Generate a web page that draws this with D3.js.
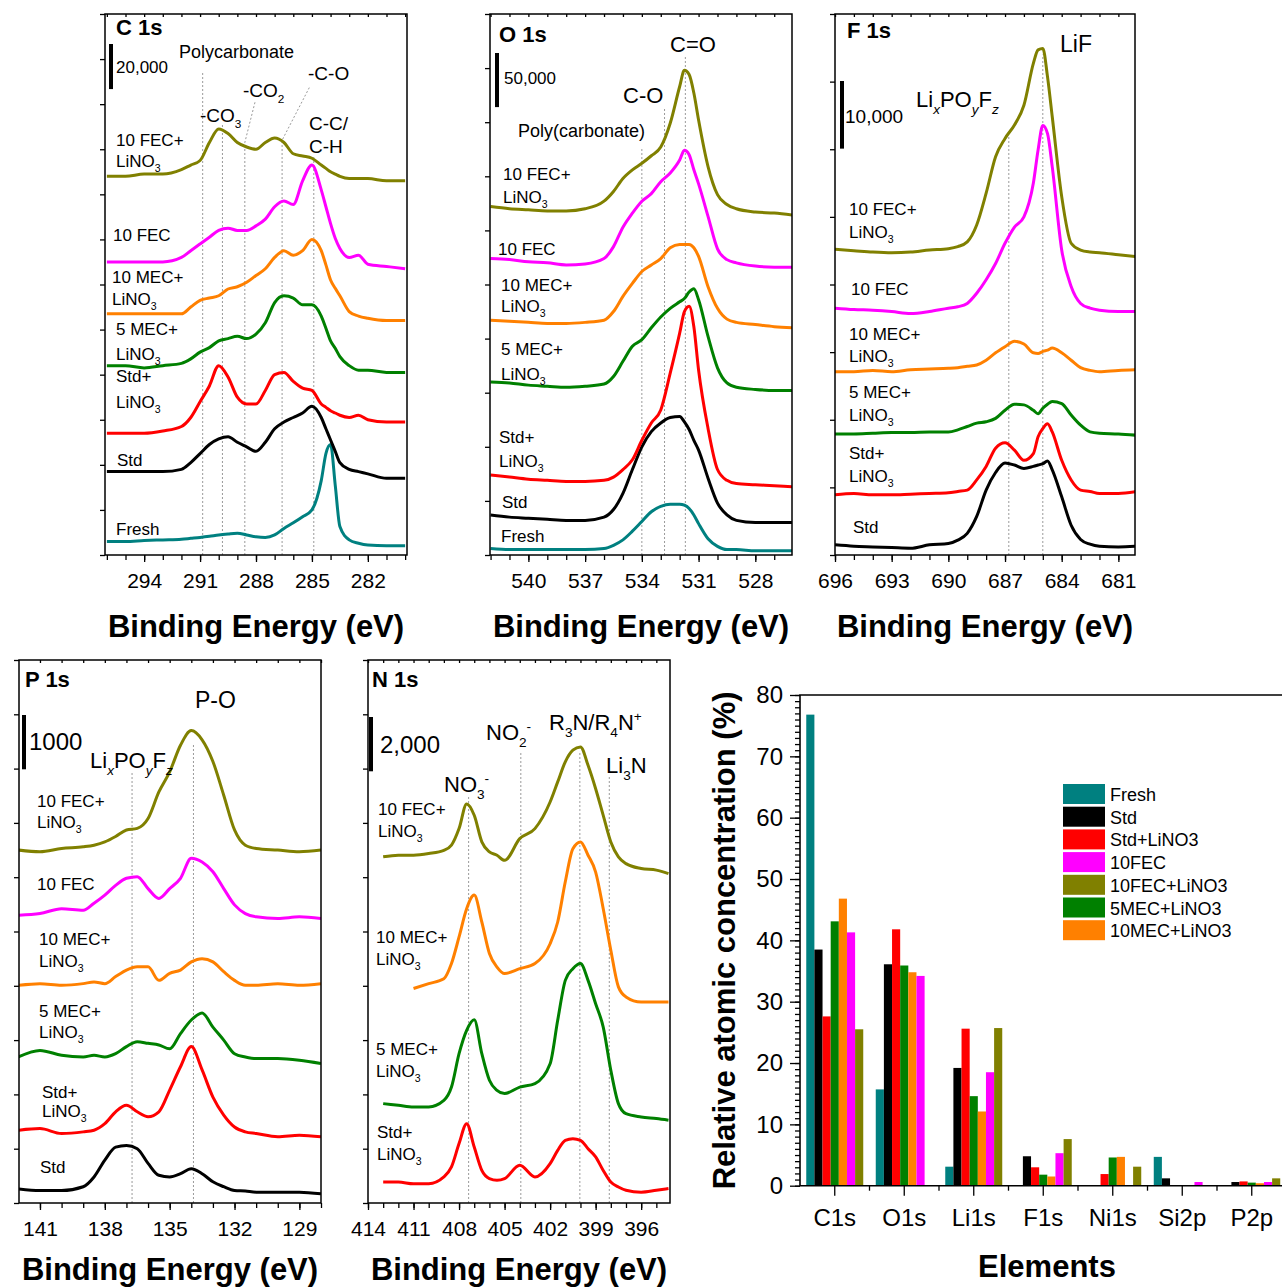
<!DOCTYPE html>
<html>
<head>
<meta charset="utf-8">
<script src="https://cdn.jsdelivr.net/npm/d3@7"></script>
<style>
  body { margin: 0; background: #fff; }
  svg text { font-family: "Liberation Sans", Arial, Helvetica, sans-serif; fill: #000; }
</style>
</head>
<body>
<svg id="fig" width="1282" height="1288"></svg>
<script>
// ---------- C 1s (intensity in 1000 counts) ----------
const c1sEnergy = [296,295,294,293,292,291.5,291,290.5,290,289.5,289,288.5,288,287.5,287,286.5,286,285.5,285,284.5,284.25,284,283.75,283.5,283,282.5,282,281,280];
const c1sTicks = [294,291,288,285,282];
const c1sFec10Li = [168,168,169,169,171,173,175,183,189,187,183,181,180,183,185,183,178,177,176,173,171.5,170,169,168,167,167,167,166,166];
const c1sFec10 = [130,130,130,130,132,135,138,141,144,145,144,144,146,149,154.5,157,155.5,166,173,162,154.5,147,140.5,136,132,133,129,128,127];
const c1sMec10Li = [107,107,107,107,107,110,113,114,115,118,119,121,124,127,132,135,133,135,140,135,128.7,122,118.3,115,108,106,105,104,104];
const c1sMec5Li = [84,84,83,84,85,87,90,92,95,96,97,96,98,103,112,115,114,111,111,106,100.6,95,91.7,88,84,82,82,81,81];
const c1sStdLi = [54,54,54,55,57,61,68,75,84,79,70,67,67,73,80,81,77,74,73,67,65.5,64,63,62,61,62,60,59,59];
const c1sStd = [37,37,37,37,38,41,45,49,51.5,52.5,50,48,46,50,56,59,61,63,66,61,56,51,46,41,38,37,36,34,34];
const c1sFresh = [6,6,6.4,6.7,7,7.4,7.8,8.3,8.9,9.3,9.6,8.9,8.1,7.8,8.9,11.8,14.3,17,20,33,45,49,31,12.6,6.7,5.2,4.4,4.1,4.1];

// ---------- O 1s (1000 counts) ----------
const o1sEnergy = [542,541,540,539,538,537,536,535.5,535,534.5,534,533.5,533,532.5,532,531.75,531.5,531.25,531,530.5,530,529.5,529,528,527,526];
const o1sTicks = [540,537,534,531,528];
const o1sFec10Li = [322,320,319,318,318,320,327,336,348,356,362,369,377,399,433,448,444,427,402,359,333,324,320,317,316,314];
const o1sFec10 = [274,273,271,270,268,269,274,285,303,316,327,334,345,353,365,374,370,356,343,313,283,273,270,267,266,266];
const o1sMec10Li = [217,216,215,214,214,215,217,225,239,251,262,268,274,284,287,287,287,284,276,248,228,218,215,213,211,210];
const o1sMec5Li = [160,159,157,156,155,156,158,165,179,193,199,210,220,228,234,237,243,246,236,202,173,159,155,153,152,152];
const o1sStdLi = [74,72,70,69,68,68,69,72,79,88,106,122,134,168,205,225,230,211,171,117,79,69,66,65,64,63];
const o1sStd = [37,35,34,33,32,32,35,42,57,79,100,114,122,127,128,123,116,106,97,71,48,37,32,30,30,30];
const o1sFresh = [6,5,5,5,5,5,6,9,14,22,31,40,45,47,47,46,43,37,29,15,8,5,5,4,4,4];

// ---------- F 1s (1000 counts) ----------
const f1sEnergy = [696,695,694,693,692,691,690,689.5,689,688.5,688,687.5,687,686.5,686,685.5,685.25,685,684.75,684.5,684,683.5,683,682.5,682,681,680];
const f1sTicks = [696,693,690,687,684,681];
const f1sFec10Li = [45.2,45,44.8,44.7,44.8,45.1,45.3,45.6,46.3,48.8,53.5,58.9,61.6,63.6,66.5,72.7,74.7,74.9,70.7,64.8,53,46.1,45.1,44.8,44.7,44.4,44.1];
const f1sFec10 = [36.5,36.3,36.2,36,35.7,36,36.5,36.7,37.2,38.7,40.7,43.1,46.1,48.5,50,55,59.9,63.5,62.3,57.4,45.1,39.7,37.2,36.5,36.2,36,36];
const f1sMec10Li = [27.1,27.1,27.3,27.1,27.4,27.5,27.6,27.7,27.9,28.1,28.8,29.9,30.8,31.6,31.2,29.9,29.8,30.1,30.3,30.6,29.9,28.8,27.7,27.3,27.1,27.3,27.4];
const f1sMec5Li = [17.9,17.9,18,18.1,18.1,18.2,18.2,18.5,19,19.5,19.7,20.2,21.4,22.3,22.2,21.4,20.9,21.7,22.3,22.7,22.4,20.7,19.2,18.2,18,17.9,17.7];
const f1sStdLi = [8.9,9.1,8.9,8.9,9,9.1,9.2,9.4,9.6,11.1,13.1,15.8,16.6,15.5,14,15,17.5,18.7,19.4,18.2,14,11.1,9.6,9.4,9.1,9.1,9.4];
const f1sStd = [1.5,1.3,1.2,1.1,1,1.5,1.7,2.2,3.2,5.7,9.6,12.2,13.6,13.3,12.8,13.1,13.3,13.5,13.9,12.6,8.6,4.4,2.3,1.6,1.3,1.2,1.3];

// ---------- P 1s (counts) ----------
const p1sEnergy = [142,141,140,139,138.5,138,137.5,137,136.5,136,135.5,135,134.5,134,133.5,133,132.5,132,131.5,131,130,129,128];
const p1sTicks = [141,138,135,132,129];
const p1sFec10Li = [6500,6470,6530,6560,6590,6650,6750,6870,6900,7080,7570,7940,8430,8700,8530,8130,7510,6870,6590,6530,6500,6470,6500];
const p1sFec10 = [5300,5330,5420,5390,5520,5670,5850,5980,6010,5790,5610,5790,5980,6350,6280,6100,5790,5490,5330,5270,5240,5270,5240];
const p1sMec10Li = [4010,4040,4010,4040,4070,4040,4170,4290,4350,4350,4100,4230,4290,4440,4500,4440,4260,4100,4010,4010,4040,4010,4040];
const p1sMec5Li = [2690,2810,2720,2690,2720,2690,2750,2880,2970,2940,2910,2840,3120,3370,3500,3240,3000,2750,2690,2660,2660,2630,2570];
const p1sStdLi = [1340,1370,1280,1310,1340,1460,1680,1800,1680,1590,1680,2080,2510,2880,2450,1950,1620,1400,1310,1280,1220,1250,1220];
const p1sStd = [260,230,230,300,480,790,1030,1060,1000,730,510,480,540,630,540,390,300,230,220,200,200,200,170];

// ---------- N 1s (counts) ----------
const n1sEnergy = [413,412,411,410,409,408.5,408,407.5,407,406.5,406,405.5,405,404,403,402,401.5,401,400.5,400,399.5,399,398.5,398,397.5,397,396,395,394.2];
const n1sTicks = [414,411,408,405,402,399,396];
const n1sFec10Li = [12750,12810,12810,12870,12990,13180,13790,14700,14280,13300,12930,12810,12620,13420,13790,14770,15510,16250,16680,16800,16120,15260,14280,13300,12750,12500,12320,12260,12130];
const n1sMec10Li = [null,null,7900,8080,8260,8820,9800,10840,11340,10350,9190,8690,8450,8630,8820,9550,10350,11830,13050,13300,12810,12190,10840,9310,7960,7590,7400,7400,7400];
const n1sMec5Li = [3660,3600,3540,3540,3780,4270,5500,6360,6750,5500,4520,4150,4030,4270,4400,5130,6730,8200,8630,8820,8200,7340,6480,4890,3660,3290,3170,3110,3050];
const n1sStdLi = [770,770,710,710,960,1330,2190,2920,2060,1200,900,840,900,1390,960,1450,1940,2310,2370,2310,2000,1700,1200,770,590,470,400,470,530];

// ---------- atomic concentration (%) ----------
const elements = ['C1s','O1s','Li1s','F1s','Ni1s','Si2p','P2p'];
const concFresh   = [76.8,15.7,3.1,0,0,4.7,0];
const concStd     = [38.5,36.1,19.2,4.8,0,1.2,0.6];
const concStdLi   = [27.6,41.8,25.6,3.0,1.9,0,0.7];
const concMec5Li  = [43.1,35.9,14.6,1.8,4.6,0,0.5];
const concMec10Li = [46.8,34.8,12.1,1.5,4.7,0,0.4];
const concFec10   = [41.3,34.2,18.5,5.3,0,0.6,0.6];
const concFec10Li = [25.5,0,25.7,7.6,3.1,0,1.2];

const colors = {
  fresh: '#008080', std: '#000000', stdLi: '#ff0000', fec10: '#ff00ff',
  fec10Li: '#808000', mec5Li: '#008000', mec10Li: '#ff8000'
};

const svg = d3.select('#fig');
const defs = svg.append('defs');

// text with sub/superscripts: parts are strings or [text, 'sub'|'isub'|'sup']
function rich(g, x, y, parts, size, weight) {
  const t = g.append('text').attr('x', x).attr('y', y).attr('font-size', size);
  if (weight) t.attr('font-weight', weight);
  let cur = 0;
  parts.forEach(p => {
    const s = typeof p === 'string' ? p : p[0];
    const m = typeof p === 'string' ? '' : p[1];
    const off = m.indexOf('sub') >= 0 ? size * 0.32 : (m === 'sup' ? -size * 0.42 : 0);
    const ts = t.append('tspan').attr('dy', off - cur).text(s);
    cur = off;
    if (m) ts.attr('font-size', size * 0.62);
    if (m === 'isub') ts.attr('font-style', 'italic');
  });
  return t;
}

const LINO3 = ['LiNO', ['3', 'sub']];

function drawSpectrum(p) {
  const g = svg.append('g');
  const x = d3.scaleLinear().domain(p.eDomain).range([p.x0, p.x1]);
  const y = d3.scaleLinear().domain([0, p.yMax]).range([p.y1, p.y0]);

  defs.append('clipPath').attr('id', 'clip-' + p.id)
    .append('rect').attr('x', p.x0).attr('y', p.y0)
    .attr('width', p.x1 - p.x0).attr('height', p.y1 - p.y0);

  // dotted guide lines
  p.guides.forEach(gd => {
    const pts = [[x(gd[0][0]), p.y1]].concat(gd.map(d => [x(d[0]), y(d[1])]));
    g.append('path').attr('d', d3.line()(pts))
      .attr('fill', 'none').attr('stroke', '#9a9a9a')
      .attr('stroke-width', 1).attr('stroke-dasharray', '2,2');
  });

  // spectra
  const line = d3.line()
    .defined(d => d[1] != null)
    .x(d => x(d[0])).y(d => y(d[1]))
    .curve(d3.curveMonotoneX);
  const cg = g.append('g').attr('clip-path', 'url(#clip-' + p.id + ')');
  p.series.forEach(s => {
    cg.append('path')
      .datum(p.energies.map((e, i) => [e, s[0][i]]))
      .attr('d', line)
      .attr('fill', 'none')
      .attr('stroke', colors[s[1]])
      .attr('stroke-width', 3)
      .attr('stroke-linejoin', 'round');
  });

  // frame
  g.append('rect').attr('x', p.x0).attr('y', p.y0)
    .attr('width', p.x1 - p.x0).attr('height', p.y1 - p.y0)
    .attr('fill', 'none').attr('stroke', '#000').attr('stroke-width', 1.5);

  const lo = Math.min(p.eDomain[0], p.eDomain[1]), hi = Math.max(p.eDomain[0], p.eDomain[1]);
  const minor = d3.range(Math.ceil(lo), Math.floor(hi) + 1);

  const clean = a => { a.select('.domain').remove(); a.selectAll('line').attr('stroke', '#000').attr('stroke-width', 1.3); };

  g.append('g').attr('transform', `translate(0,${p.y1})`)
    .call(d3.axisBottom(x).tickValues(minor).tickSize(5).tickFormat(''))
    .call(clean);
  const bx = g.append('g').attr('transform', `translate(0,${p.y1})`)
    .call(d3.axisBottom(x).tickValues(p.ticks).tickSize(7).tickPadding(11).tickFormat(d3.format('d')))
    .call(clean);
  bx.selectAll('text').attr('font-size', 21).attr('fill', '#000')
    .style('font-family', '"Liberation Sans", Arial, sans-serif');

  g.append('g').attr('transform', `translate(0,${p.y0})`)
    .call(d3.axisTop(x).tickValues(minor).tickSize(-3).tickFormat(''))
    .call(clean);

  g.append('g').attr('transform', `translate(${p.x0},0)`)
    .call(d3.axisLeft(y).tickValues(d3.range(0, p.yMax + 1e-9, p.yStep)).tickSize(5).tickFormat(''))
    .call(clean);

  // axis title (kept inside the 1288 px canvas on the lower row)
  g.append('text').attr('x', (p.x0 + p.x1) / 2).attr('y', Math.min(p.y1 + 82, 1280))
    .attr('text-anchor', 'middle').attr('font-size', 31).attr('font-weight', 'bold')
    .text('Binding Energy (eV)');

  // panel title
  g.append('text').attr('x', p.title[1]).attr('y', p.title[2])
    .attr('font-size', 22).attr('font-weight', 'bold').text(p.title[0]);

  // intensity scale bar
  const bh = y(0) - y(p.yStep);
  g.append('rect').attr('x', p.bar.x - 2).attr('y', p.bar.top)
    .attr('width', 4).attr('height', bh).attr('fill', '#000');
  g.append('text').attr('x', p.bar.lx).attr('y', p.bar.ly)
    .attr('font-size', p.bar.size).text(p.bar.label);

  p.notes.forEach(n => rich(g, n.x, n.y, n.parts, n.size));
  p.samples.forEach(n => rich(g, n[0], n[1], n[2], 17));
}

drawSpectrum({
  id: 'c1s', x0: 105, x1: 407, y0: 14, y1: 555, eDomain: [296.1, 279.9], yMax: 240, yStep: 20,
  energies: c1sEnergy, ticks: c1sTicks,
  series: [[c1sFresh,'fresh'],[c1sStd,'std'],[c1sStdLi,'stdLi'],[c1sMec5Li,'mec5Li'],[c1sMec10Li,'mec10Li'],[c1sFec10,'fec10'],[c1sFec10Li,'fec10Li']],
  title: ['C 1s', 116, 35],
  bar: { x: 111, top: 44, label: '20,000', lx: 116, ly: 73, size: 17 },
  guides: [[[290.86,214]], [[289.8,191]], [[288.6,183],[288.05,201]], [[286.6,184],[285.1,208]], [[284.9,177]]],
  notes: [
    { x: 179, y: 58, size: 18, parts: ['Polycarbonate'] },
    { x: 200, y: 122, size: 19, parts: ['-CO', ['3','sub']] },
    { x: 243, y: 97, size: 19, parts: ['-CO', ['2','sub']] },
    { x: 308, y: 80, size: 19, parts: ['-C-O'] },
    { x: 309, y: 130, size: 19, parts: ['C-C/'] },
    { x: 309, y: 153, size: 19, parts: ['C-H'] }
  ],
  samples: [
    [116,146,['10 FEC+']],[116,167,LINO3],[113,241,['10 FEC']],
    [112,283,['10 MEC+']],[112,305,LINO3],[116,335,['5 MEC+']],[116,360,LINO3],
    [116,382,['Std+']],[116,408,LINO3],[117,466,['Std']],[116,535,['Fresh']]
  ]
});

drawSpectrum({
  id: 'o1s', x0: 490, x1: 792, y0: 14, y1: 555, eDomain: [542.03, 526.06], yMax: 500, yStep: 50,
  energies: o1sEnergy, ticks: o1sTicks,
  series: [[o1sFresh,'fresh'],[o1sStd,'std'],[o1sStdLi,'stdLi'],[o1sMec5Li,'mec5Li'],[o1sMec10Li,'mec10Li'],[o1sFec10,'fec10'],[o1sFec10Li,'fec10Li']],
  title: ['O 1s', 499, 42],
  bar: { x: 497, top: 53, label: '50,000', lx: 504, ly: 84, size: 17 },
  guides: [[[534.0,377]], [[532.8,413]], [[531.7,462]]],
  notes: [
    { x: 670, y: 52, size: 22, parts: ['C=O'] },
    { x: 623, y: 103, size: 22, parts: ['C-O'] },
    { x: 518, y: 137, size: 18, parts: ['Poly(carbonate)'] }
  ],
  samples: [
    [503,180,['10 FEC+']],[503,203,LINO3],[498,255,['10 FEC']],
    [501,291,['10 MEC+']],[501,312,LINO3],[501,355,['5 MEC+']],[501,380,LINO3],
    [499,443,['Std+']],[499,467,LINO3],[502,508,['Std']],[501,542,['Fresh']]
  ]
});

drawSpectrum({
  id: 'f1s', x0: 835, x1: 1135, y0: 14, y1: 555, eDomain: [696, 680.12], yMax: 80, yStep: 10,
  energies: f1sEnergy, ticks: f1sTicks,
  series: [[f1sStd,'std'],[f1sStdLi,'stdLi'],[f1sMec5Li,'mec5Li'],[f1sMec10Li,'mec10Li'],[f1sFec10,'fec10'],[f1sFec10Li,'fec10Li']],
  title: ['F 1s', 847, 38],
  bar: { x: 842, top: 81, label: '10,000', lx: 845, ly: 123, size: 19 },
  guides: [[[686.8,62]], [[685.0,74]]],
  notes: [
    { x: 1060, y: 52, size: 23, parts: ['LiF'] },
    { x: 916, y: 107, size: 22, parts: ['Li', ['x','isub'], 'PO', ['y','isub'], 'F', ['z','isub']] }
  ],
  samples: [
    [849,215,['10 FEC+']],[849,238,LINO3],[851,295,['10 FEC']],
    [849,340,['10 MEC+']],[849,362,LINO3],[849,398,['5 MEC+']],[849,421,LINO3],
    [849,459,['Std+']],[849,482,LINO3],[853,533,['Std']]
  ]
});

drawSpectrum({
  id: 'p1s', x0: 19, x1: 321, y0: 660, y1: 1203, eDomain: [141.97, 128.0], yMax: 10000, yStep: 1000,
  energies: p1sEnergy, ticks: p1sTicks,
  series: [[p1sStd,'std'],[p1sStdLi,'stdLi'],[p1sMec5Li,'mec5Li'],[p1sMec10Li,'mec10Li'],[p1sFec10,'fec10'],[p1sFec10Li,'fec10Li']],
  title: ['P 1s', 25, 687],
  bar: { x: 24, top: 715, label: '1000', lx: 29, ly: 750, size: 24 },
  guides: [[[136.74,7940]], [[133.9,8470]]],
  notes: [
    { x: 195, y: 708, size: 23, parts: ['P-O'] },
    { x: 90, y: 768, size: 22, parts: ['Li', ['x','isub'], 'PO', ['y','isub'], 'F', ['z','isub']] }
  ],
  samples: [
    [37,807,['10 FEC+']],[37,828,LINO3],[37,890,['10 FEC']],
    [39,945,['10 MEC+']],[39,967,LINO3],[39,1017,['5 MEC+']],[39,1038,LINO3],
    [42,1098,['Std+']],[42,1117,LINO3],[40,1173,['Std']]
  ]
});

drawSpectrum({
  id: 'n1s', x0: 368, x1: 670, y0: 660, y1: 1203, eDomain: [414.0, 394.1], yMax: 20000, yStep: 2000,
  energies: n1sEnergy, ticks: n1sTicks,
  series: [[n1sStdLi,'stdLi'],[n1sMec5Li,'mec5Li'],[n1sMec10Li,'mec10Li'],[n1sFec10Li,'fec10Li']],
  title: ['N 1s', 372, 687],
  bar: { x: 371, top: 717, label: '2,000', lx: 380, ly: 753, size: 24 },
  guides: [[[407.37,15020]], [[403.93,16620]], [[400.04,16600]], [[398.1,15700]]],
  notes: [
    { x: 444, y: 792, size: 22, parts: ['NO', ['3','sub'], ['-','sup']] },
    { x: 486, y: 740, size: 22, parts: ['NO', ['2','sub'], ['-','sup']] },
    { x: 549, y: 730, size: 22, parts: ['R', ['3','sub'], 'N/R', ['4','sub'], 'N', ['+','sup']] },
    { x: 606, y: 773, size: 22, parts: ['Li', ['3','sub'], 'N'] }
  ],
  samples: [
    [378,815,['10 FEC+']],[378,837,LINO3],
    [376,943,['10 MEC+']],[376,965,LINO3],[376,1055,['5 MEC+']],[376,1077,LINO3],
    [377,1138,['Std+']],[377,1160,LINO3]
  ]
});

// ---------- bar chart ----------
(function () {
  const g = svg.append('g');
  const X0 = 800, Y0 = 695, Y1 = 1185.7;
  const bars = [
    ['Fresh', concFresh, 'fresh'], ['Std', concStd, 'std'], ['Std+LiNO3', concStdLi, 'stdLi'],
    ['5MEC+LiNO3', concMec5Li, 'mec5Li'], ['10MEC+LiNO3', concMec10Li, 'mec10Li'],
    ['10FEC', concFec10, 'fec10'], ['10FEC+LiNO3', concFec10Li, 'fec10Li']
  ];
  const x = d3.scaleBand().domain(elements).range([X0, X0 + 7 * 69.5]).paddingInner(0.18).paddingOuter(0.09);
  const xs = d3.scaleBand().domain(bars.map(b => b[0])).range([0, x.bandwidth()]);
  const y = d3.scaleLinear().domain([0, 80]).range([Y1, Y0]);

  bars.forEach(b => {
    g.append('g').selectAll('rect').data(b[1]).enter().append('rect')
      .attr('x', (d, i) => x(elements[i]) + xs(b[0]))
      .attr('y', d => y(d))
      .attr('width', xs.bandwidth())
      .attr('height', d => y(0) - y(d))
      .attr('fill', colors[b[2]]);
  });

  const clean = a => { a.select('.domain').remove(); a.selectAll('line').attr('stroke', '#000').attr('stroke-width', 1.3); };

  g.append('g').attr('transform', `translate(${X0},0)`)
    .call(d3.axisLeft(y).tickValues(d3.range(0, 81, 1)).tickSize(5).tickFormat(''))
    .call(clean);
  const ly = g.append('g').attr('transform', `translate(${X0},0)`)
    .call(d3.axisLeft(y).tickValues(d3.range(0, 81, 10)).tickSize(10).tickPadding(7))
    .call(clean);
  ly.selectAll('text').attr('font-size', 24).attr('fill', '#000')
    .style('font-family', '"Liberation Sans", Arial, sans-serif');

  const lx = g.append('g').attr('transform', `translate(0,${Y1})`)
    .call(d3.axisBottom(x).tickSize(10).tickPadding(13))
    .call(clean);
  lx.selectAll('text').attr('font-size', 24).attr('fill', '#000')
    .style('font-family', '"Liberation Sans", Arial, sans-serif');

  // minor ticks at group boundaries
  g.append('g').selectAll('line').data(elements.slice(1)).enter().append('line')
    .attr('x1', d => x(d) - x.step() * x.paddingInner() / 2)
    .attr('x2', d => x(d) - x.step() * x.paddingInner() / 2)
    .attr('y1', Y1).attr('y2', Y1 + 5).attr('stroke', '#000').attr('stroke-width', 1.3);

  // axis lines (left, bottom, top)
  g.append('path').attr('d', d3.line()([[1290, Y0], [X0, Y0], [X0, Y1], [1290, Y1]]))
    .attr('fill', 'none').attr('stroke', '#000').attr('stroke-width', 1.6);

  g.append('text').attr('transform', `translate(735,${(Y0 + Y1) / 2}) rotate(-90)`)
    .attr('text-anchor', 'middle').attr('font-size', 31).attr('font-weight', 'bold')
    .text('Relative atomic concentration (%)');
  g.append('text').attr('x', 1047).attr('y', 1277).attr('text-anchor', 'middle')
    .attr('font-size', 31).attr('font-weight', 'bold').text('Elements');

  // legend
  const legend = [['Fresh','fresh'],['Std','std'],['Std+LiNO3','stdLi'],['10FEC','fec10'],
                  ['10FEC+LiNO3','fec10Li'],['5MEC+LiNO3','mec5Li'],['10MEC+LiNO3','mec10Li']];
  const lg = g.append('g').selectAll('g').data(legend).enter().append('g')
    .attr('transform', (d, i) => `translate(1063,${794 + i * 22.7})`);
  lg.append('rect').attr('x', 0).attr('y', -10).attr('width', 42).attr('height', 20)
    .attr('fill', d => colors[d[1]]);
  lg.append('text').attr('x', 47).attr('y', 7).attr('font-size', 18).text(d => d[0]);
})();
</script>
</body>
</html>
